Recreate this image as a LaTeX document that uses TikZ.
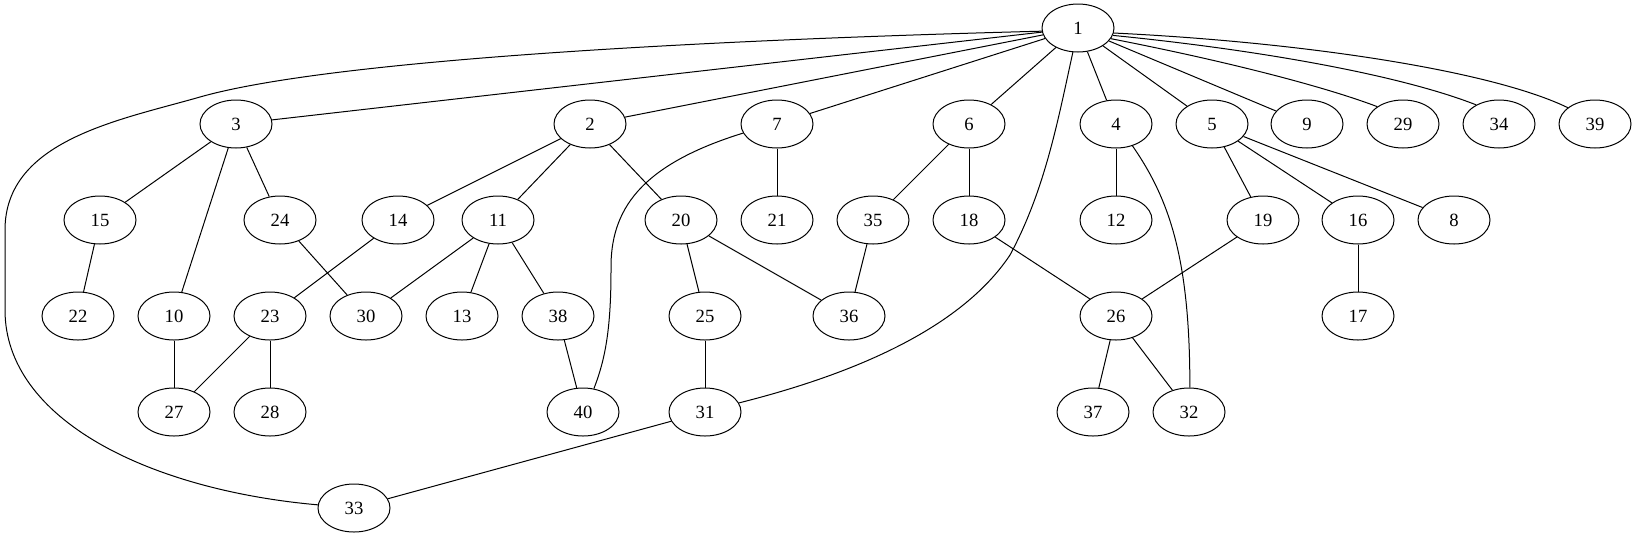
\documentclass[tikz,border=0pt]{standalone}
\usepackage{fontspec}
\setmainfont{Liberation Serif}
\usetikzlibrary{shapes.geometric}
\tikzset{
  gnode/.style={draw, ellipse, line width=1pt, minimum width=72pt, minimum height=48pt, inner sep=0pt, font=\fontsize{18.67}{22}\selectfont},
  gedge/.style={line width=1pt}
}
\begin{document}
\begin{tikzpicture}[x=1pt,y=-1pt]
\useasboundingbox (0,0) rectangle (1637,539);
\node[gnode] (n1) at (1078,28) {1};
\node[gnode] (n3) at (236,124) {3};
\node[gnode] (n2) at (590,124) {2};
\node[gnode] (n7) at (777,124) {7};
\node[gnode] (n6) at (969,124) {6};
\node[gnode] (n4) at (1116,124) {4};
\node[gnode] (n5) at (1212,124) {5};
\node[gnode] (n9) at (1307,124) {9};
\node[gnode] (n29) at (1403,124) {29};
\node[gnode] (n34) at (1499,124) {34};
\node[gnode] (n39) at (1595,124) {39};
\node[gnode] (n15) at (100,220) {15};
\node[gnode] (n24) at (280,220) {24};
\node[gnode] (n14) at (398,220) {14};
\node[gnode] (n11) at (498,220) {11};
\node[gnode] (n20) at (681,220) {20};
\node[gnode] (n21) at (777,220) {21};
\node[gnode] (n35) at (873,220) {35};
\node[gnode] (n18) at (969,220) {18};
\node[gnode] (n12) at (1116,220) {12};
\node[gnode] (n19) at (1263,220) {19};
\node[gnode] (n16) at (1358,220) {16};
\node[gnode] (n8) at (1454,220) {8};
\node[gnode] (n22) at (78,316) {22};
\node[gnode] (n10) at (174,316) {10};
\node[gnode] (n23) at (270,316) {23};
\node[gnode] (n30) at (366,316) {30};
\node[gnode] (n13) at (462,316) {13};
\node[gnode] (n38) at (558,316) {38};
\node[gnode] (n25) at (705,316) {25};
\node[gnode] (n36) at (849,316) {36};
\node[gnode] (n26) at (1116,316) {26};
\node[gnode] (n17) at (1358,316) {17};
\node[gnode] (n27) at (174,412) {27};
\node[gnode] (n28) at (270,412) {28};
\node[gnode] (n40) at (583,412) {40};
\node[gnode] (n31) at (705,412) {31};
\node[gnode] (n37) at (1093,412) {37};
\node[gnode] (n32) at (1189,412) {32};
\node[gnode] (n33) at (354,508) {33};

\begin{scope}[gedge]
\draw (n1) -- (n3);
\draw (n1) -- (n2);
\draw (n1) -- (n7);
\draw (n1) -- (n6);
\draw (n1) -- (n4);
\draw (n1) -- (n5);
\draw (n1) -- (n9);
\draw (n1.-18) .. controls (1220,60) and (1320,85) .. (n29.146);
\draw (n1.-12) .. controls (1260,50) and (1400,75) .. (n34.140);
\draw (n1.-8) .. controls (1300,42) and (1490,70) .. (n39.149);
\draw (n1.258) .. controls (1058,120) and (1045,190) .. (1010,255)
      .. controls (960,330) and (850,375) .. (n31.15);
\draw (n1.185) .. controls (700,40) and (330,60) .. (200,97)
      .. controls (120,120) and (5,140) .. (5,230) -- (5,310)
      .. controls (5,420) and (150,490) .. (n33.175);
\draw (n2) -- (n14);
\draw (n2) -- (n11);
\draw (n2) -- (n20);
\draw (n3) -- (n15);
\draw (n3) -- (n10);
\draw (n3) -- (n24);
\draw (n4) -- (n12);
\draw (n4.-53) .. controls (1170,200) and (1190,260) .. (n32.88);
\draw (n5) -- (n19);
\draw (n5) -- (n16);
\draw (n5) -- (n8);
\draw (n6) -- (n35);
\draw (n6) -- (n18);
\draw (n7) -- (n21);
\draw (n7.195) .. controls (640,165) and (610,210) .. (611,270)
      .. controls (611,330) and (605,360) .. (n40.65);
\draw (n10) -- (n27);
\draw (n11) -- (n30);
\draw (n11) -- (n13);
\draw (n11) -- (n38);
\draw (n14) -- (n23);
\draw (n15) -- (n22);
\draw (n16) -- (n17);
\draw (n18) -- (n26);
\draw (n19) -- (n26);
\draw (n20) -- (n25);
\draw (n20) -- (n36);
\draw (n23) -- (n27);
\draw (n23) -- (n28);
\draw (n24) -- (n30);
\draw (n25) -- (n31);
\draw (n26) -- (n37);
\draw (n26) -- (n32);
\draw (n31) -- (n33);
\draw (n35) -- (n36);
\draw (n38) -- (n40);
\end{scope}
\end{tikzpicture}
\end{document}
